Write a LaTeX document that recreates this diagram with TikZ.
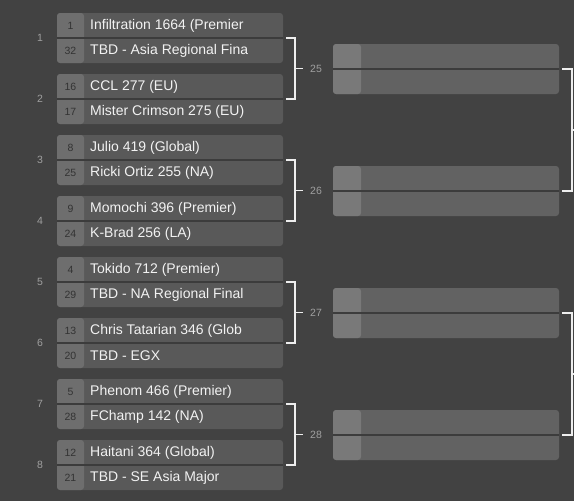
\documentclass[tikz,border=0pt]{standalone}
\usepackage{fontspec}
\setmainfont{Liberation Sans}
\usetikzlibrary{calc}
\definecolor{bgcol}{HTML}{424242}
\definecolor{namecolA}{HTML}{595959}
\definecolor{seedcolA}{HTML}{6E6E6E}
\definecolor{namecolB}{HTML}{626262}
\definecolor{seedcolB}{HTML}{797979}
\definecolor{divcol}{HTML}{3C3C3C}
\definecolor{seedtxt}{HTML}{333333}
\definecolor{nametxt}{HTML}{F2F2F2}
\definecolor{lbltxt}{HTML}{A0A0A0}
\definecolor{brk}{HTML}{EEEEEE}
\tikzset{
  matchbox/.style n args={3}{draw=none, fill=#1, rounded corners=3pt,
    minimum width=226pt, minimum height=50pt, inner sep=0pt, outer sep=0pt,
    path picture={
      \fill[#2] (path picture bounding box.north west) rectangle ([xshift=#3]path picture bounding box.south west);
      \draw[divcol, line width=1.2pt] (path picture bounding box.west) -- (path picture bounding box.east);
    }},
  boxA/.style={matchbox={namecolA}{seedcolA}{27pt}},
  boxB/.style={matchbox={namecolB}{seedcolB}{28pt}},
  seedtext/.style={text=seedtxt, font=\fontsize{10.5}{12}\selectfont, inner sep=0pt},
  nametext/.style={text=nametxt, font=\fontsize{14}{16}\selectfont, inner sep=0pt, anchor=west},
  matchlbl/.style={text=lbltxt, font=\fontsize{10.5}{12}\selectfont, inner sep=0pt},
  bracket/.style={draw=brk, line width=1.7pt, line cap=butt},
}
\begin{document}
\begin{tikzpicture}[x=1pt,y=-1pt]
\fill[bgcol] (0,0) rectangle (574,501);
\useasboundingbox (0,0) rectangle (574,501);

% Round 1 boxes
\foreach \i/\t in {1/13,2/74,3/135,4/196,5/257,6/318,7/379,8/440}{
  \node[boxA] (m\i) at (170,\t+25) {};
  \node[matchlbl] (l\i) at (40,\t+25) {\i};
}
% Round 2 boxes
\foreach \i/\t in {25/44,26/166,27/288,28/410}{
  \node[boxB] (q\i) at (446,\t+25) {};
  \node[matchlbl] (k\i) at (316,\t+25) {\i};
}

% Seeds
\foreach \m/\a/\b in {1/1/32,2/16/17,3/8/25,4/9/24,5/4/29,6/13/20,7/5/28,8/12/21}{
  \node[seedtext] (sa\m) at ([xshift=13.5pt,yshift=12.5pt]m\m.west) {\a};
  \node[seedtext] (sb\m) at ([xshift=13.5pt,yshift=-12.5pt]m\m.west) {\b};
}

% Names (clipped at right like the reference)
\begin{scope}
\clip (84,0) rectangle (247,501);
\node[nametext] (n1a) at ([xshift=33pt,yshift=12.5pt]m1.west) {Infiltration 1664 (Premier};
\node[nametext] (n1b) at ([xshift=33pt,yshift=-12.5pt]m1.west) {TBD - Asia Regional Fina};
\node[nametext] (n2a) at ([xshift=33pt,yshift=12.5pt]m2.west) {CCL 277 (EU)};
\node[nametext] (n2b) at ([xshift=33pt,yshift=-12.5pt]m2.west) {Mister Crimson 275 (EU)};
\node[nametext] (n3a) at ([xshift=33pt,yshift=12.5pt]m3.west) {Julio 419 (Global)};
\node[nametext] (n3b) at ([xshift=33pt,yshift=-12.5pt]m3.west) {Ricki Ortiz 255 (NA)};
\node[nametext] (n4a) at ([xshift=33pt,yshift=12.5pt]m4.west) {Momochi 396 (Premier)};
\node[nametext] (n4b) at ([xshift=33pt,yshift=-12.5pt]m4.west) {K-Brad 256 (LA)};
\node[nametext] (n5a) at ([xshift=33pt,yshift=12.5pt]m5.west) {Tokido 712 (Premier)};
\node[nametext] (n5b) at ([xshift=33pt,yshift=-12.5pt]m5.west) {TBD - NA Regional Final};
\node[nametext] (n6a) at ([xshift=33pt,yshift=12.5pt]m6.west) {Chris Tatarian 346 (Glob};
\node[nametext] (n6b) at ([xshift=33pt,yshift=-12.5pt]m6.west) {TBD - EGX};
\node[nametext] (n7a) at ([xshift=33pt,yshift=12.5pt]m7.west) {Phenom 466 (Premier)};
\node[nametext] (n7b) at ([xshift=33pt,yshift=-12.5pt]m7.west) {FChamp 142 (NA)};
\node[nametext] (n8a) at ([xshift=33pt,yshift=12.5pt]m8.west) {Haitani 364 (Global)};
\node[nametext] (n8b) at ([xshift=33pt,yshift=-12.5pt]m8.west) {TBD - SE Asia Major};
\end{scope}

% Round 1 brackets
\foreach \a/\b/\c in {1/2/25,3/4/26,5/6/27,7/8/28}{
  \draw[bracket] ([xshift=3pt]m\a.east) -- ++(9,0) |- ([xshift=3pt]m\b.east);
  \draw[bracket] ($(m\a.east)!.5!(m\b.east)+(12,0)$) -- ++(8,0);
}
% Round 2 brackets
\foreach \a/\b in {25/26,27/28}{
  \draw[bracket] ([xshift=3pt]q\a.east) -- ++(10,0) |- ([xshift=3pt]q\b.east);
  \draw[bracket] ($(q\a.east)!.5!(q\b.east)+(13,0)$) -- ++(8,0);
}
\end{tikzpicture}
\end{document}
